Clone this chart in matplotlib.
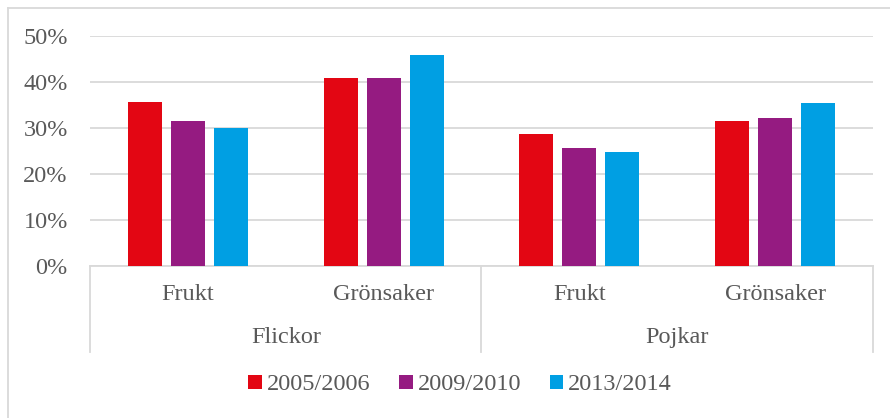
import matplotlib.pyplot as plt
from matplotlib.patches import Patch
from matplotlib.lines import Line2D
import numpy as np

plt.rcParams['font.family'] = ['Liberation Serif', 'DejaVu Serif']

groups = ['Flickor', 'Pojkar']
categories = ['Frukt', 'Grönsaker', 'Frukt', 'Grönsaker']
series = ['2005/2006', '2009/2010', '2013/2014']
v2005 = [0.357, 0.408, 0.286, 0.315]
v2009 = [0.316, 0.408, 0.256, 0.322]
v2013 = [0.301, 0.458, 0.248, 0.354]
colors = ['#E30613', '#951B81', '#009FE3']

text_col = '#595959'
line_col = '#D9D9D9'
fs = 17.5

fig = plt.figure(figsize=(8.9, 4.18), dpi=100)
ax = fig.add_axes([0.1011, 0.3636, 0.8798, 0.5503])

x = np.arange(len(categories))
pitch = 0.22
width = 0.174
for i, (vals, c) in enumerate(zip([v2005, v2009, v2013], colors)):
    ax.bar(x + (i - 1) * pitch, vals, width=width, color=c, zorder=3)

ax.set_xlim(-0.5, 3.5)
ax.set_ylim(0, 0.5)
ax.set_yticks(np.arange(0, 0.51, 0.1))
ax.set_yticklabels([f'{int(round(t * 100))}%' for t in np.arange(0, 0.51, 0.1)])
ax.tick_params(axis='y', length=0, pad=16, labelsize=fs, labelcolor=text_col)
ax.set_xticks([])
ax.grid(axis='y', color=line_col, linewidth=1.3, zorder=0)
for s in ax.spines.values():
    s.set_visible(False)

# hierarchical category axis
trans = ax.get_xaxis_transform()
ax.add_line(Line2D([-0.5, 3.5], [0, 0], transform=trans, color=line_col, lw=1.3, clip_on=False))
for xs in [-0.5, 1.5, 3.5]:
    ax.add_line(Line2D([xs, xs], [0, -0.374], transform=trans, color=line_col, lw=1.3, clip_on=False))
for xi, lab in zip(x, categories):
    ax.text(xi, -0.126, lab, transform=trans, ha='center', va='center', fontsize=fs, color=text_col)
for gi, g in enumerate(groups):
    ax.text(gi * 2 + 0.5, -0.309, g, transform=trans, ha='center', va='center', fontsize=fs, color=text_col)

handles = [Patch(facecolor=c, label=s) for c, s in zip(colors, series)]
fig.legend(handles=handles, loc='center', bbox_to_anchor=(0.517, 0.079), ncol=3, frameon=False,
           fontsize=fs, handlelength=0.55, handleheight=0.55, handletextpad=0.2,
           columnspacing=1.2, labelcolor=text_col)

# outer chart border
fig.add_artist(Line2D([8 / 890, 8 / 890], [0, 1 - 8 / 418], transform=fig.transFigure, color=line_col, lw=1.3))
fig.add_artist(Line2D([8 / 890, 1], [1 - 8 / 418, 1 - 8 / 418], transform=fig.transFigure, color=line_col, lw=1.3))

plt.savefig('out.png', dpi=100)
